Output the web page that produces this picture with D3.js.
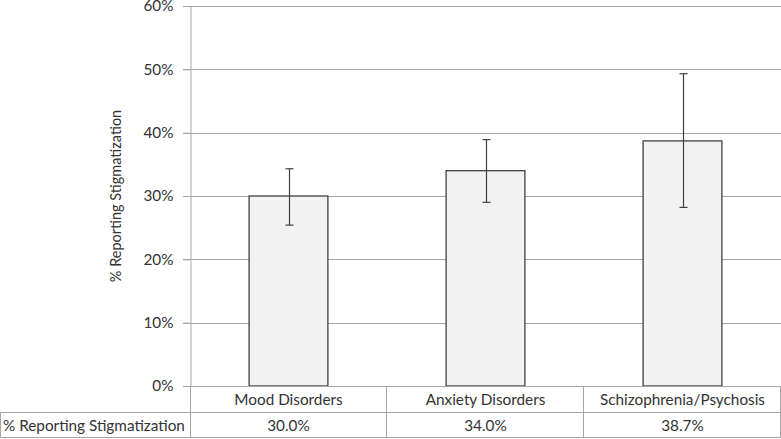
<!DOCTYPE html>
<html><head><meta charset="utf-8">
<script src="https://cdn.jsdelivr.net/npm/d3@7"></script>
<style>body{margin:0;background:#fff}svg{display:block}text{font-family:Lato,"Open Sans",sans-serif;fill:#333}</style>
</head><body>
<script>
const categories = ["Mood Disorders","Anxiety Disorders","Schizophrenia/Psychosis"];
const values = [30.0, 34.0, 38.7];
const errLow = [25.4, 29.0, 28.2];
const errHigh = [34.3, 38.9, 49.3];
const yTicks = [0,10,20,30,40,50,60];
const rowLabel = "% Reporting Stigmatization";
const axisTitle = "% Reporting Stigmatization";

(function(){
const W=781,H=439,FS="15.3px";
const svg=d3.select("body").append("svg").attr("width",W).attr("height",H);
const pL=190,pR=781,pT=6,pB=386;
const x=d3.scaleBand().domain(categories).range([pL,pR]).paddingInner(0).paddingOuter(0);
const y=d3.scaleLinear().domain([0,60]).range([pB,pT]);
const grid="#a6a6a6";

svg.append("g").selectAll("line").data(yTicks.filter(d=>d>0)).join("line")
 .attr("x1",pL-7).attr("x2",pR).attr("y1",d=>Math.round(y(d))+0.5).attr("y2",d=>Math.round(y(d))+0.5)
 .attr("stroke",grid).attr("stroke-width",1);

const ya=svg.append("g").attr("transform",`translate(${pL+0.5},0)`)
 .call(d3.axisLeft(y).tickValues(yTicks).tickFormat(d=>d+"%").tickSize(7).tickSizeOuter(0));
ya.select(".domain").attr("stroke",grid);
ya.selectAll(".tick line").attr("stroke",grid);
ya.selectAll(".tick text").attr("x",-17).style("font-size",FS).attr("fill","#333").style("font-family","Lato,'Open Sans',sans-serif");

svg.append("text").attr("transform",`translate(121,${(pT+pB)/2}) rotate(-90)`)
 .attr("text-anchor","middle").style("font-size","14.5px").text(axisTitle);

const bw=x.bandwidth()*0.4;
svg.append("g").selectAll("rect").data(categories).join("rect")
 .attr("x",d=>x(d)+x.bandwidth()/2-bw/2).attr("width",bw)
 .attr("y",(d,i)=>y(values[i])).attr("height",(d,i)=>pB-y(values[i]))
 .attr("fill","#f2f2f2").attr("stroke","#404040").attr("stroke-width",1.3);

const eg=svg.append("g").attr("stroke","#404040").attr("stroke-width",1.2);
categories.forEach((c,i)=>{
 const cx=Math.round(x(c)+x.bandwidth()/2)+0.5;
 eg.append("line").attr("x1",cx).attr("x2",cx).attr("y1",y(errLow[i])).attr("y2",y(errHigh[i]));
 [errLow[i],errHigh[i]].forEach(v=>eg.append("line").attr("x1",cx-4).attr("x2",cx+4).attr("y1",y(v)).attr("y2",y(v)));
});

const r1=pB, r2=412.5, r3=437.5;
const tg=svg.append("g").attr("stroke",grid).attr("stroke-width",1);
tg.append("line").attr("x1",pL-7).attr("x2",pR).attr("y1",r1+0.5).attr("y2",r1+0.5);
tg.append("line").attr("x1",0.5).attr("x2",pR).attr("y1",r2).attr("y2",r2);
tg.append("line").attr("x1",0.5).attr("x2",pR).attr("y1",r3).attr("y2",r3);
tg.append("line").attr("x1",0.5).attr("x2",0.5).attr("y1",r2).attr("y2",r3);
tg.append("line").attr("x1",pL+0.5).attr("x2",pL+0.5).attr("y1",r1).attr("y2",r3);
categories.forEach(c=>{
 const xe=Math.min(Math.round(x(c)+x.bandwidth())-0.5,pR-0.5);
 tg.append("line").attr("x1",xe).attr("x2",xe).attr("y1",r1).attr("y2",r3);
});
svg.append("g").selectAll("text").data(categories).join("text")
 .attr("x",d=>x(d)+x.bandwidth()/2).attr("y",(r1+r2)/2+5.5).attr("text-anchor","middle")
 .style("font-size",FS).text(d=>d);
svg.append("g").selectAll("text").data(values).join("text")
 .attr("x",(d,i)=>x(categories[i])+x.bandwidth()/2).attr("y",(r2+r3)/2+5.5).attr("text-anchor","middle")
 .style("font-size",FS).text(d=>d.toFixed(1)+"%");
svg.append("text").attr("x",3).attr("y",(r2+r3)/2+5.5).style("font-size",FS).text(rowLabel);
})();
</script>
</body></html>
